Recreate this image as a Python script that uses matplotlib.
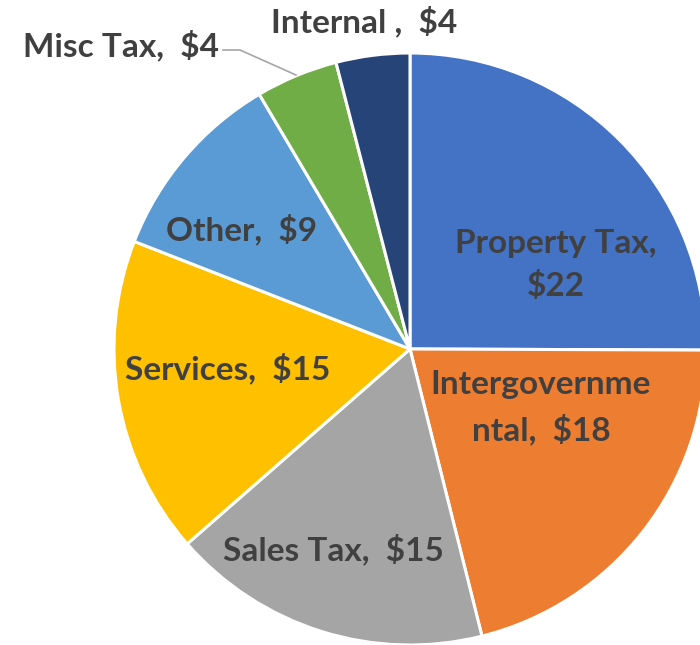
import matplotlib.pyplot as plt

categories = ['Property Tax', 'Intergovernmental', 'Sales Tax', 'Services', 'Other', 'Misc Tax', 'Internal']
# values; labels show rounded dollars
values = [21.8, 18.3, 15.2, 15.1, 9.2, 3.9, 3.5]
colors = ['#4472C4', '#ED7D31', '#A5A5A5', '#FFC000', '#5B9BD5', '#70AD47', '#264478']
labels = ['Property Tax,\n$22', 'Intergovernme\nntal,  $18', 'Sales Tax,  $15', 'Services,  $15',
          'Other,  $9', 'Misc Tax,  $4', 'Internal ,  $4']

W, H = 700, 645
fig = plt.figure(figsize=(W / 100, H / 100), dpi=100)
ax = fig.add_axes([0, 0, 1, 1])

cx, cy, r = 410, H - 349, 296
ax.pie(values, colors=colors, startangle=90, counterclock=False,
       center=(cx, cy), radius=r, frame=True,
       wedgeprops=dict(edgecolor='white', linewidth=2.2))
ax.set_xlim(0, W)
ax.set_ylim(0, H)
ax.set_aspect('equal')
ax.axis('off')

txt = dict(fontsize=24, fontweight='bold', color='#404040', family=['Lato', 'DejaVu Sans'],
           ha='center', va='center', linespacing=1.55)
# label positions in pixel coords (from top)
pos = [(556, 265), (541, 408), (333, 549), (228, 368), (242, 229), (121, 45), (364, 21)]
for lab, (x, y) in zip(labels, pos):
    ax.text(x, H - y, lab, **txt)

# leader line for Misc Tax
ax.plot([223, 240, 296], [H - 50, H - 50, H - 75], color='#A6A6A6', lw=1.2)

fig.savefig('out.png', dpi=100)
